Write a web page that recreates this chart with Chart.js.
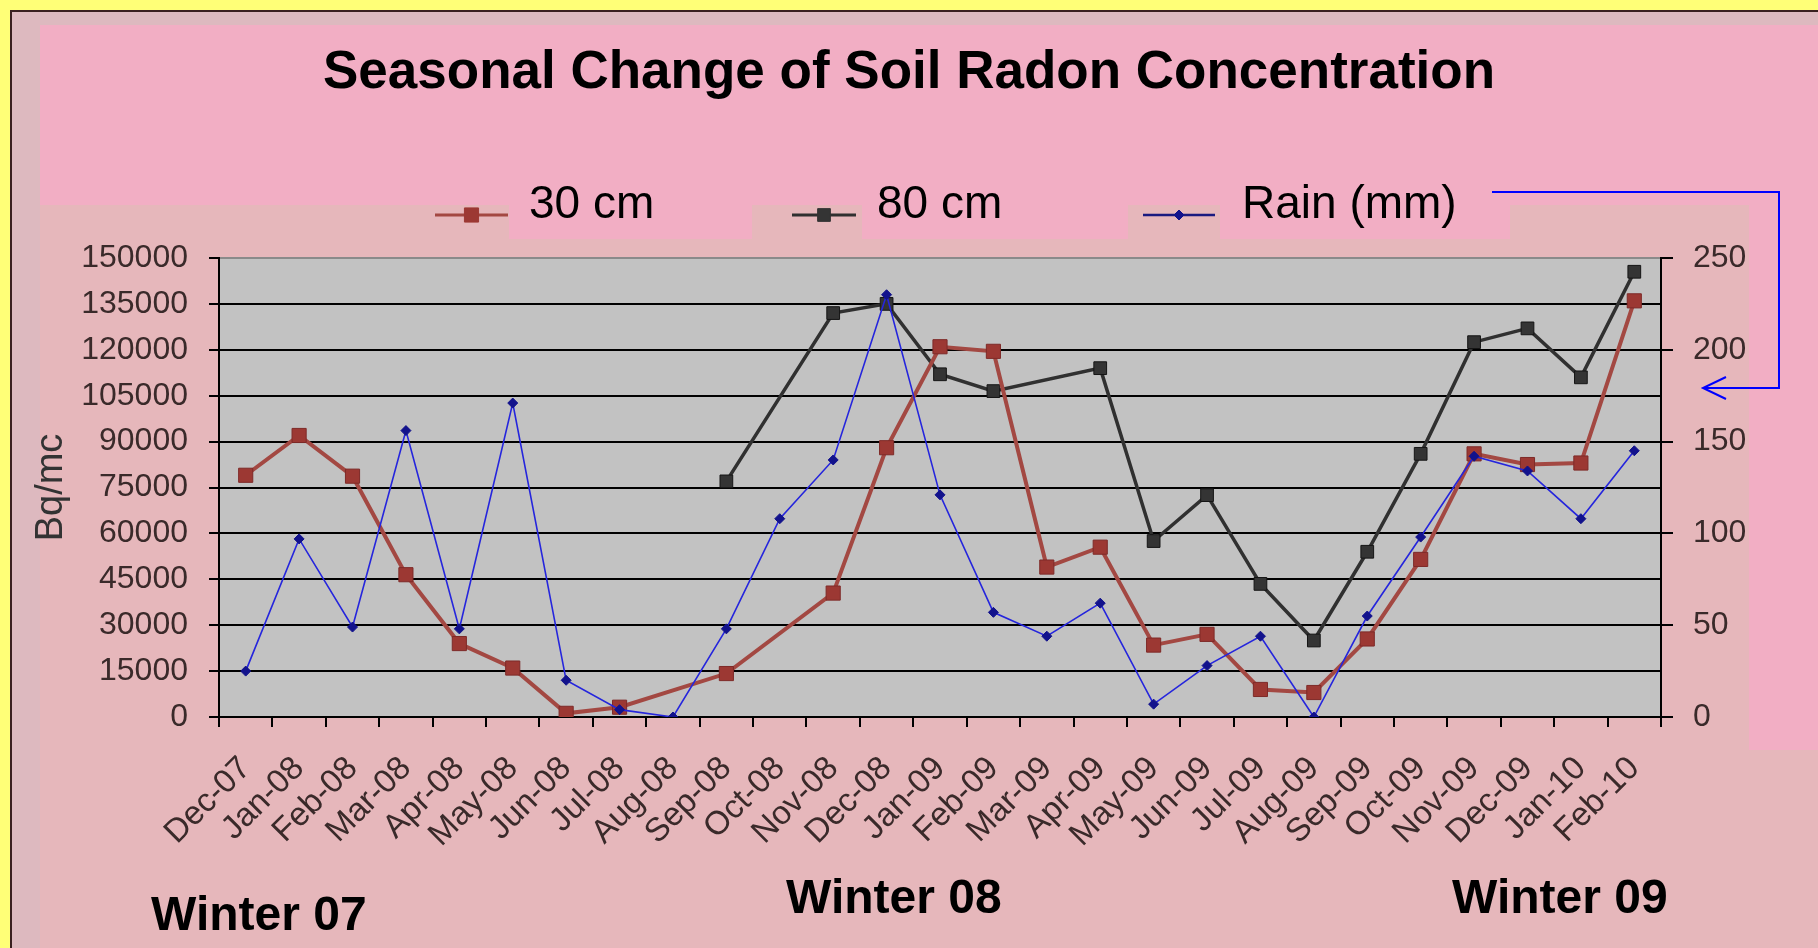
<!DOCTYPE html>
<html><head><meta charset="utf-8">
<script src="https://cdn.jsdelivr.net/npm/chart.js@4.4.1/dist/chart.umd.min.js"></script>
<style>html,body{margin:0;padding:0;overflow:hidden;background:#F2AEC4}canvas{display:block}</style>
</head><body>
<canvas id="c" width="1818" height="948"></canvas>
<script>
// ---- data ----
const categories = ['Dec-07','Jan-08','Feb-08','Mar-08','Apr-08','May-08','Jun-08','Jul-08','Aug-08','Sep-08','Oct-08','Nov-08','Dec-08','Jan-09','Feb-09','Mar-09','Apr-09','May-09','Jun-09','Jul-09','Aug-09','Sep-09','Oct-09','Nov-09','Dec-09','Jan-10','Feb-10'];
const cm30 = [79000, 92000, 78700, 46500, 24000, 16000, 1200, 3200, null, 14200, null, 40500, 88000, 121000, 119500, 49000, 55500, 23500, 27000, 9000, 8000, 25500, 51500, 86000, 82500, 83000, 136000];
const cm80 = [null, null, null, null, null, null, null, null, null, 77000, null, 132000, 135000, 112000, 106500, null, 114000, 57500, 72500, 43500, 25000, 54000, 86000, 122500, 127000, 111000, 145500];
const rain = [25, 97, 49, 156, 48, 171, 20, 4, 0, 48, 108, 140, 230, 121, 57, 44, 62, 7, 28, 44, 0, 55, 98, 142, 134, 108, 145];
const leftTicks = [0, 15000, 30000, 45000, 60000, 75000, 90000, 105000, 120000, 135000, 150000];
const rightTicks = [0, 50, 100, 150, 200, 250];
const seriesNames = ['30 cm', '80 cm', 'Rain (mm)'];
const titleText = 'Seasonal Change of Soil Radon Concentration';
const yTitle = 'Bq/mc';
const winterLabels = ['Winter 07', 'Winter 08', 'Winter 09'];

const FAM = '"Liberation Sans", Arial, Helvetica, sans-serif';
const SLIDE = '#F2AEC4', CHARTBG = '#E6B7BB', PLOT = '#C2C2C2';
const RED = '#A34842', RED_F = '#9C3833', BLK = '#303030', BLK_F = '#343434', BLU = '#2525DD', BLU_F = '#12128C';
const TICKC = '#3a2a2a';

const bgPlugin = {
  id: 'bg',
  beforeDraw(chart) {
    const ctx = chart.ctx; const a = chart.chartArea;
    ctx.save();
    ctx.fillStyle = SLIDE; ctx.fillRect(0, 0, 1818, 948);
    ctx.fillStyle = CHARTBG;
    ctx.fillRect(12, 205, 1737, 743);
    ctx.fillRect(1749, 750, 69, 198);
    ctx.fillStyle = '#DDB9BF';
    ctx.fillRect(12, 12, 1806, 13);
    ctx.fillRect(12, 12, 28, 936);
    ctx.fillStyle = SLIDE;
    ctx.fillRect(509, 175, 243, 64);
    ctx.fillRect(862, 175, 266, 64);
    ctx.fillRect(1220, 175, 290, 64);
    ctx.fillStyle = '#FFFF77';
    ctx.fillRect(0, 0, 1818, 10); ctx.fillRect(0, 0, 10, 948);
    ctx.fillStyle = '#3a2020';
    ctx.fillRect(10, 10, 1808, 2); ctx.fillRect(10, 10, 2, 938);
    ctx.fillStyle = PLOT;
    ctx.fillRect(a.left, a.top, a.right - a.left, a.bottom - a.top);
    ctx.restore();
  },
  afterDraw(chart) {
    const ctx = chart.ctx;
    ctx.save();
    ctx.fillStyle = '#000';
    ctx.font = 'bold 53px ' + FAM;
    ctx.textAlign = 'center'; ctx.textBaseline = 'alphabetic';
    ctx.fillText(titleText, 909, 88);
    const leg = [
      {x0: 435, x1: 508, tx: 529, c: RED, f: RED_F, st: 'rect', r: 10, w: 3},
      {x0: 792, x1: 856, tx: 877, c: BLK, f: BLK_F, st: 'rect', r: 9, w: 3},
      {x0: 1143, x1: 1215, tx: 1242, c: '#1a1a80', f: BLU_F, st: 'rectRot', r: 5, w: 2.5}
    ];
    leg.forEach((l, i) => {
      ctx.strokeStyle = l.c; ctx.lineWidth = l.w;
      ctx.beginPath(); ctx.moveTo(l.x0, 215); ctx.lineTo(l.x1, 215); ctx.stroke();
      ctx.fillStyle = l.f; ctx.strokeStyle = l.f; ctx.lineWidth = 1;
      Chart.helpers.drawPoint(ctx, {pointStyle: l.st, radius: l.r, borderWidth: 1}, (l.x0 + l.x1) / 2, 215);
      ctx.fillStyle = '#000';
      ctx.font = '46px ' + FAM; ctx.textAlign = 'left';
      ctx.fillText(seriesNames[i], l.tx, 218);
    });
    ctx.strokeStyle = '#0000FF'; ctx.lineWidth = 2;
    ctx.beginPath();
    ctx.moveTo(1492, 192); ctx.lineTo(1779, 192); ctx.lineTo(1779, 388); ctx.lineTo(1703, 388);
    ctx.moveTo(1726, 377); ctx.lineTo(1703, 388); ctx.lineTo(1726, 399);
    ctx.stroke();
    ctx.fillStyle = '#000';
    ctx.font = 'bold 48px ' + FAM; ctx.textAlign = 'left';
    ctx.fillText(winterLabels[0], 151, 930);
    ctx.fillText(winterLabels[1], 786, 913);
    ctx.fillText(winterLabels[2], 1452, 913);
    ctx.restore();
  }
};

new Chart(document.getElementById('c'), {
  type: 'line',
  data: {
    labels: categories,
    datasets: [
      {label: seriesNames[2], data: rain, yAxisID: 'y1', borderColor: BLU, backgroundColor: BLU_F, pointBorderColor: BLU_F,
       borderWidth: 1.6, pointStyle: 'rectRot', pointRadius: 5, pointBorderWidth: 1, spanGaps: true, tension: 0, order: 1},
      {label: seriesNames[0], data: cm30, yAxisID: 'y', borderColor: RED, backgroundColor: RED_F, pointBorderColor: '#7E2A28',
       borderWidth: 4, pointStyle: 'rect', pointRadius: 10, pointBorderWidth: 1, spanGaps: true, tension: 0, order: 2},
      {label: seriesNames[1], data: cm80, yAxisID: 'y', borderColor: BLK, backgroundColor: BLK_F, pointBorderColor: '#151515',
       borderWidth: 3.5, pointStyle: 'rect', pointRadius: 9, pointBorderWidth: 1, spanGaps: true, tension: 0, order: 3}
    ]
  },
  options: {
    responsive: false, animation: false, devicePixelRatio: 1, events: [],
    layout: {padding: {left: 10, right: 10, top: 258, bottom: 0}},
    plugins: {legend: {display: false}, title: {display: false}, tooltip: {enabled: false}},
    scales: {
      x: {
        type: 'category', offset: true,
        grid: {offset: true, drawOnChartArea: false, drawTicks: true, tickLength: 10, color: '#000', lineWidth: 2},
        border: {display: true, color: '#000', width: 2},
        ticks: {autoSkip: false, maxRotation: 45, minRotation: 45, padding: 22, color: TICKC, font: {family: FAM, size: 33}},
        afterFit(s) { s.height = 231; }
      },
      y: {
        position: 'left', min: 0, max: 150000,
        afterBuildTicks(s) { s.ticks = leftTicks.map(v => ({value: v})); },
        grid: {color: c => (c.tick && c.tick.value === 150000) ? '#8a8a8a' : '#000', tickColor: '#000', lineWidth: 2, tickLength: 10},
        border: {display: true, color: '#000', width: 2},
        ticks: {padding: 21, color: TICKC, font: {family: FAM, size: 32}, callback: v => String(v)},
        title: {display: true, text: yTitle, color: '#333', font: {family: FAM, size: 38}, padding: {top: 19, bottom: 0}},
        afterFit(s) { s.width = 209; }
      },
      y1: {
        position: 'right', min: 0, max: 250,
        afterBuildTicks(s) { s.ticks = rightTicks.map(v => ({value: v})); },
        grid: {drawOnChartArea: false, color: '#000', lineWidth: 2, tickLength: 12},
        border: {display: true, color: '#000', width: 2},
        ticks: {padding: 20, color: TICKC, font: {family: FAM, size: 32}, callback: v => String(v)},
        afterFit(s) { s.width = 147; }
      }
    }
  },
  plugins: [bgPlugin]
});
</script>
</body></html>
